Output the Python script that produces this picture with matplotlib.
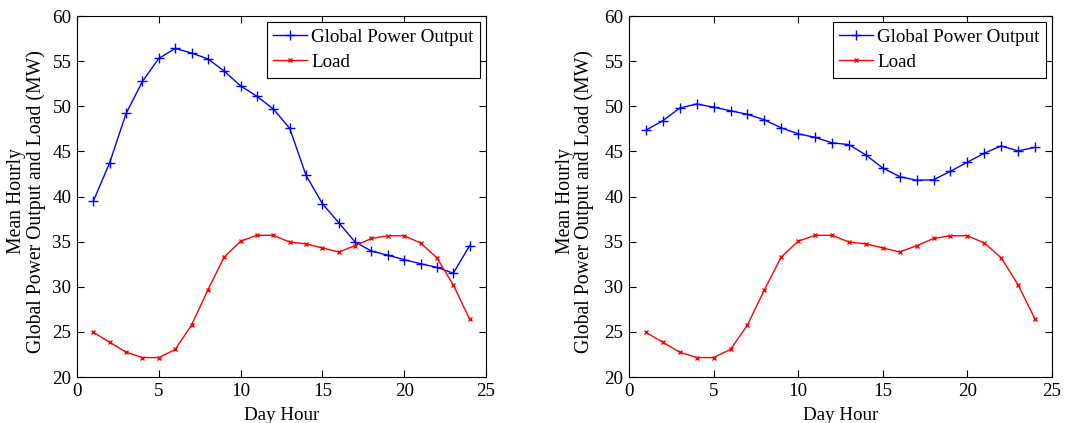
import matplotlib
matplotlib.use("Agg")
import matplotlib.pyplot as plt

hours = list(range(1, 25))

power_left = [39.5, 43.75, 49.2, 52.75, 55.3, 56.4, 55.9, 55.25, 53.9, 52.25,
              51.1, 49.7, 47.55, 42.35, 39.2, 37.1, 34.95, 33.95, 33.5, 33.0,
              32.55, 32.15, 31.5, 34.55]
power_right = [47.35, 48.4, 49.8, 50.25, 49.9, 49.5, 49.1, 48.5, 47.6, 46.95,
               46.55, 45.95, 45.75, 44.6, 43.15, 42.2, 41.8, 41.85, 42.8, 43.8,
               44.8, 45.6, 45.05, 45.45]
load = [24.95, 23.85, 22.75, 22.15, 22.15, 23.05, 25.75, 29.65, 33.3, 35.05,
        35.7, 35.7, 34.95, 34.75, 34.3, 33.85, 34.55, 35.35, 35.65, 35.65,
        34.85, 33.2, 30.2, 26.4]

plt.rcParams["font.family"] = ["Liberation Serif", "DejaVu Serif"]
fs = 13.7
plt.rcParams["font.size"] = fs

fig = plt.figure(figsize=(10.65, 4.23), dpi=100)
W, H = 1065, 423
ax_left = fig.add_axes([77 / W, 1 - 377 / H, 409 / W, 361 / H])
ax_right = fig.add_axes([629 / W, 1 - 377 / H, 423 / W, 361 / H])

# right edge of the y label, as fraction of axes width (left of the axes)
label_x = {ax_left: -0.076, ax_right: -0.082}

for ax, power in [(ax_left, power_left), (ax_right, power_right)]:
    ax.plot(hours, power, color="blue", marker="+", markersize=7,
            markeredgewidth=1.0, linewidth=1.0, label="Global Power Output")
    ax.plot(hours, load, color="red", marker="x", markersize=3.5,
            markeredgewidth=1.0, linewidth=1.0, label="Load")
    ax.set_xlim(0, 25)
    ax.set_ylim(20, 60)
    ax.set_xticks([0, 5, 10, 15, 20, 25])
    ax.set_yticks(range(20, 61, 5))
    ax.tick_params(direction="in", top=True, right=True, length=5, width=0.8,
                   labelsize=fs, pad=4)
    for s in ax.spines.values():
        s.set_linewidth(0.8)
    ax.set_xlabel("Day Hour", labelpad=5)
    ax.set_ylabel("Mean Hourly\nGlobal Power Output and Load (MW)",
                  linespacing=1.0, fontsize=14.2)
    ax.yaxis.set_label_coords(label_x[ax], 0.487)
    leg = ax.legend(loc="upper right", fancybox=False, framealpha=1,
                    edgecolor="black", borderaxespad=0.3, handlelength=1.75,
                    handletextpad=0.25, labelspacing=0.42, borderpad=0.35,
                    fontsize=fs)
    leg.get_frame().set_linewidth(0.8)

fig.savefig("out.png", dpi=100)
